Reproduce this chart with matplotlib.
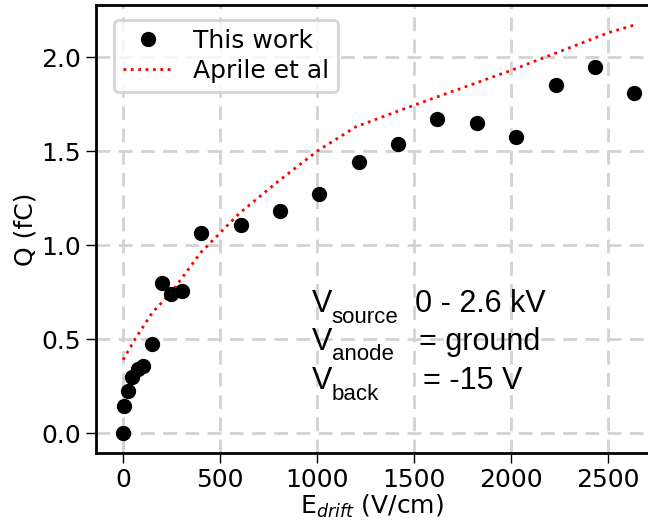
import matplotlib
matplotlib.use("Agg")
import matplotlib.pyplot as plt
import numpy as np

# measured charge vs drift field
e_work = [0, 5, 26, 47, 78, 103, 149, 201, 247, 304, 402, 608, 809, 1010,
          1216, 1418, 1619, 1825, 2026, 2232, 2433, 2634]
q_work = [0.0, 0.144, 0.223, 0.30, 0.34, 0.357, 0.473, 0.80, 0.74, 0.755,
          1.064, 1.106, 1.18, 1.27, 1.44, 1.54, 1.67, 1.65, 1.575, 1.85,
          1.95, 1.81]

# reference curve
e_aprile = [0, 62, 150, 250, 400, 600, 800, 1000, 1200, 1500, 2000, 2500, 2630]
q_aprile = [0.39, 0.5, 0.64, 0.75, 0.96, 1.17, 1.34, 1.5, 1.63, 1.745, 1.93,
            2.13, 2.17]

xticks = [0, 500, 1000, 1500, 2000, 2500]
yticks = [0.0, 0.5, 1.0, 1.5, 2.0]

plt.rcParams['mathtext.fontset'] = 'dejavusans'

fig = plt.figure(figsize=(6.48, 5.23), dpi=100)
ax = fig.add_axes([0.148, 0.134, 0.852, 0.856])

ax.plot(e_work, q_work, 'o', color='black', ms=10, label='This work', zorder=3)
ax.plot(e_aprile, q_aprile, ':', color='red', lw=2, label='Aprile et al', zorder=2)

ax.set_xlim(-140, 2706)
ax.set_ylim(-0.106, 2.277)
ax.set_xticks(xticks)
ax.set_yticks(yticks)
ax.set_yticklabels(['%.1f' % v for v in yticks])

ax.grid(True, ls='--', color='#d3d3d3', lw=2, dashes=(5, 3))
ax.set_axisbelow(True)
for s in ['left', 'bottom', 'top']:
    ax.spines[s].set_linewidth(2)
ax.spines['right'].set_visible(False)
ax.tick_params(labelsize=18, length=7, width=1, direction='out')

ax.set_xlabel(r'E$_{drift}$ (V/cm)', fontsize=18, labelpad=1)
ax.set_ylabel('Q (fC)', fontsize=18, labelpad=3)

leg = ax.legend(loc='upper left', fontsize=18, frameon=True,
                borderpad=0.35, handlelength=2.0, labelspacing=0.25,
                handletextpad=0.8, bbox_to_anchor=(0.01, 0.995))
leg.get_frame().set_edgecolor('#cccccc')
leg.get_frame().set_linewidth(2)

# bias settings, placed in figure fractions
big = {'family': 'Liberation Sans', 'size': 22}
small = {'family': 'Liberation Sans', 'size': 16}
tf = fig.transFigure
rows = [('source', '0 - 2.6 kV', 0.4034, 0.3824, 0.640),
        ('anode', '= ground', 0.3308, 0.3117, 0.647),
        ('back', '= -15 V', 0.2562, 0.2352, 0.653)]
for sub, val, yb, ys, xv in rows:
    fig.text(0.4815, yb, 'V', transform=tf, fontdict=big, va='baseline')
    fig.text(0.512, ys, sub, transform=tf, fontdict=small, va='baseline')
    fig.text(xv, yb, val, transform=tf, fontdict=big, va='baseline')

fig.savefig('out.png', dpi=100)
